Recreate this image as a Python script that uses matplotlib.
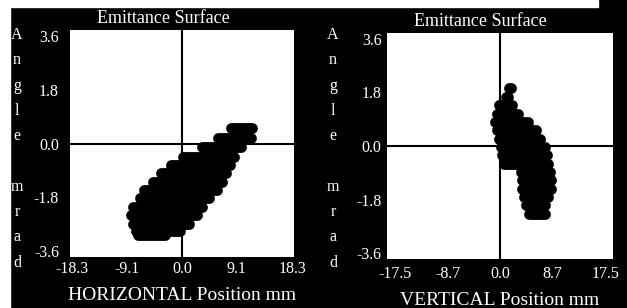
import matplotlib
matplotlib.use("Agg")
import matplotlib.pyplot as plt
from matplotlib.patches import Rectangle

plt.rcParams['font.family'] = ['Liberation Serif', 'DejaVu Serif']

# Emittance rows: angle (mrad) and x-range of each beamlet row (mm)
left_angle = [0.51, 0.17, -0.11, -0.44, -0.72, -1.00, -1.28, -1.56, -1.84, -2.12, -2.40, -2.68, -2.92, -3.05]
left_xmin = [8.2, 5.95, 3.4, 0.15, -1.75, -3.45, -4.8, -6.25, -7.05, -8.15, -8.45, -8.15, -7.7, -7.3]
left_xmax = [11.6, 11.45, 9.75, 8.65, 8.05, 7.25, 6.65, 5.85, 4.45, 3.35, 2.55, 1.1, -0.3, -2.75]

right_angle = [1.94, 1.65, 1.37, 1.09, 0.81, 0.53, 0.25, -0.03, -0.31, -0.59, -0.87, -1.15, -1.43, -1.71, -1.99, -2.27]
right_xmin = [1.45, 0.95, -0.2, -0.45, -0.75, -0.5, -0.15, 0.15, 0.35, 0.65, 3.45, 3.65, 3.65, 4.0, 4.25, 4.75]
right_xmax = [1.75, 1.4, 1.95, 3.0, 4.65, 6.05, 6.65, 7.45, 7.75, 8.05, 8.25, 8.55, 8.55, 8.0, 7.55, 7.45]

left_xticks = [-18.3, -9.1, 0.0, 9.1, 18.3]
left_xlabels = ['-18.3', '-9.1', '0.0', '9.1', '18.3']
right_xticks = [-17.5, -8.7, 0.0, 8.7, 17.5]
right_xlabels = ['-17.5', '-8.7', '0.0', '8.7', '17.5']
yticks = [3.6, 1.8, 0.0, -1.8, -3.6]
ylabels = ['3.6', '1.8', '0.0', '-1.8', '-3.6']

W, H = 627, 308
fig = plt.figure(figsize=(W / 100, H / 100), dpi=100, facecolor='black')

# scan borders
fig.patches.append(Rectangle((0, 1 - 7 / H), 598 / W, 7 / H, transform=fig.transFigure,
                             color='white', zorder=0))
fig.patches.append(Rectangle((0, 0), 10 / W, 1, transform=fig.transFigure,
                             color='white', zorder=0))


def panel(rect, angle, xmin, xmax, xlim, xt, xtl, xlabel, ypad, xpad, tpad, lpad):
    ax = fig.add_axes(rect)
    ax.set_facecolor('white')
    ax.hlines(angle, xmin, xmax, colors='black', linewidth=7.8, capstyle='round', zorder=3)
    ax.axhline(0, color='black', lw=1.5, zorder=2)
    ax.axvline(0, color='black', lw=1.5, zorder=2)
    ax.set_xlim(-xlim, xlim)
    ax.set_ylim(-3.8, 3.8)
    ax.set_xticks(xt)
    ax.set_xticklabels(xtl)
    ax.set_yticks(yticks)
    ax.set_yticklabels(ylabels)
    ax.tick_params(length=0, colors='white', labelsize=11.5)
    ax.tick_params(axis='y', pad=ypad)
    ax.tick_params(axis='x', pad=xpad)
    for s in ax.spines.values():
        s.set_visible(False)
    ax.set_title('Emittance Surface', color='white', fontsize=13, x=0.415, pad=tpad)
    ax.set_xlabel(xlabel, color='white', fontsize=14, labelpad=lpad)
    return ax


panel([70 / W, 1 - 257 / H, 224 / W, 227 / H], left_angle, left_xmin, left_xmax,
      18.6, left_xticks, left_xlabels, 'HORIZONTAL Position mm', 8, 3, 5, 7)
panel([387 / W, 1 - 259 / H, 226 / W, 226 / H], right_angle, right_xmin, right_xmax,
      18.8, right_xticks, right_xlabels, 'VERTICAL Position mm', 4, 5, 5, 7)

# vertical "Angle mrad" labels, one letter per line
letters = ['A', 'n', 'g', 'l', 'e', '', 'm', 'r', 'a', 'd']
for cx in (17, 333):
    for i, ch in enumerate(letters):
        fig.text(cx / W, 1 - (35 + i * 25.3) / H, ch, color='white', fontsize=11.5,
                 ha='center', va='center')

fig.savefig('out.png', dpi=100, facecolor='black')
